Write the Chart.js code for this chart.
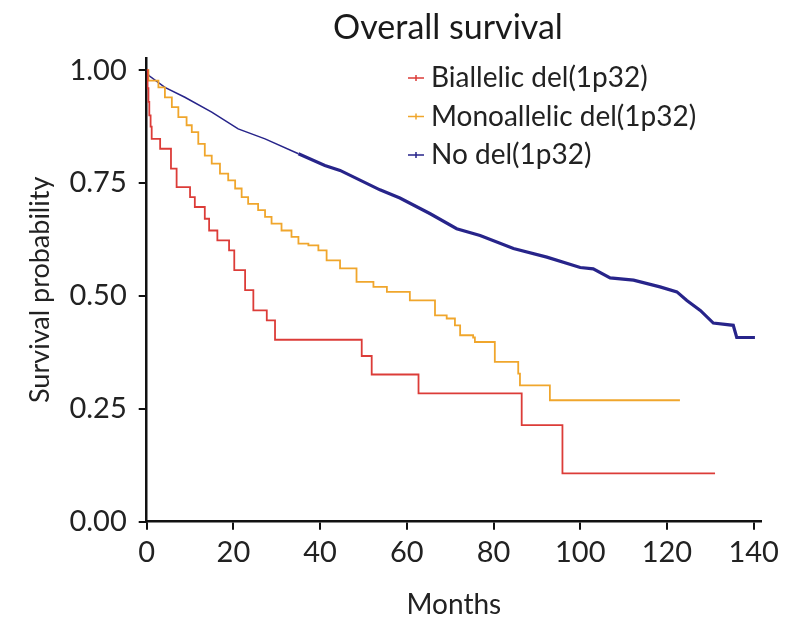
<!DOCTYPE html>
<html><head><meta charset="utf-8">
<script src="https://cdn.jsdelivr.net/npm/chart.js@4/dist/chart.umd.min.js"></script>
<style>html,body{margin:0;padding:0;background:#fff}</style>
</head><body>
<canvas id="c" width="796" height="622"></canvas>
<script>
const chartTitle = 'Overall survival';
const xTitle = 'Months';
const yTitle = 'Survival probability';
const seriesNames = ['Biallelic del(1p32)', 'Monoallelic del(1p32)', 'No del(1p32)'];
const seriesColors = ['#dc3c38', '#f0a62c', '#27248a'];

const xTicks = [0, 20, 40, 60, 80, 100, 120, 140];
const yTicks = [0, 0.25, 0.5, 0.75, 1.0];

const biallelicMonths = [0, 0.2, 0.4, 0.6, 0.9, 1.15, 3.1, 5.6, 6.9, 10.0, 11.1, 13.4, 14.4, 16.3, 19.0, 20.2, 22.7, 24.6, 27.7, 29.6, 49.6, 51.9, 62.7, 86.5, 95.9, 131.1];
const biallelicSurv   = [1.0, 0.96, 0.93, 0.90, 0.875, 0.848, 0.826, 0.782, 0.741, 0.719, 0.697, 0.671, 0.645, 0.623, 0.601, 0.557, 0.513, 0.468, 0.446, 0.403, 0.367, 0.326, 0.284, 0.214, 0.107, 0.107];

const monoMonths = [0, 0.4, 2.7, 4.2, 5.8, 7.3, 9.2, 10.4, 11.9, 13.4, 15.0, 16.9, 18.8, 20.4, 21.9, 23.4, 25.7, 27.3, 28.8, 31.1, 33.4, 35.0, 37.3, 39.6, 41.5, 44.6, 48.4, 52.3, 55.4, 60.7, 66.5, 69.2, 71.1, 72.3, 75.3, 75.7, 80.3, 85.7, 86.1, 93.0, 123.0];
const monoSurv   = [1.0, 0.977, 0.962, 0.940, 0.918, 0.896, 0.878, 0.863, 0.837, 0.811, 0.793, 0.771, 0.756, 0.738, 0.719, 0.704, 0.690, 0.675, 0.660, 0.645, 0.631, 0.616, 0.612, 0.601, 0.579, 0.561, 0.531, 0.520, 0.509, 0.490, 0.457, 0.450, 0.435, 0.413, 0.408, 0.398, 0.354, 0.328, 0.302, 0.269, 0.269];

const noDelMonths = [0, 0.5, 4.2, 8.8, 15.0, 21.1, 27.3, 35.0, 41.1, 44.6, 53.8, 58.4, 65.4, 71.5, 76.9, 84.6, 92.3, 100, 103, 106.9, 112.3, 118.4, 122.3, 124.6, 127.7, 130.7, 135.3, 136.1, 140.3];
const noDelSurv   = [1.0, 0.988, 0.962, 0.940, 0.907, 0.870, 0.848, 0.815, 0.789, 0.778, 0.735, 0.717, 0.682, 0.649, 0.634, 0.605, 0.586, 0.563, 0.560, 0.540, 0.535, 0.520, 0.509, 0.490, 0.468, 0.440, 0.435, 0.408, 0.408];

const pts = (xs, ys) => xs.map((x, i) => ({x: x, y: ys[i]}));
const FONT = 'Lato, "Open Sans", sans-serif';

const overlay = {
  id: 'overlay',
  afterDraw(chart) {
    const ctx = chart.ctx;
    ctx.save();
    ctx.fillStyle = '#1a1a1a';
    ctx.font = '34px ' + FONT;
    ctx.textAlign = 'center';
    ctx.textBaseline = 'middle';
    ctx.fillText(chartTitle, 448, 28);
    ctx.font = '28px ' + FONT;
    ctx.textAlign = 'left';
    chart.data.datasets.forEach((ds, i) => {
      const y = 78 + i * 38.5;
      ctx.strokeStyle = ds.borderColor;
      ctx.lineWidth = 1.5;
      ctx.beginPath();
      ctx.moveTo(408, y); ctx.lineTo(424, y);
      ctx.moveTo(416, y - 3); ctx.lineTo(416, y + 3);
      ctx.stroke();
      ctx.fillStyle = '#222';
      ctx.fillText(ds.label, 431, y);
    });
    ctx.restore();
  }
};

new Chart(document.getElementById('c'), {
  type: 'line',
  data: {
    datasets: [
      {label: seriesNames[0], data: pts(biallelicMonths, biallelicSurv), borderColor: seriesColors[0], borderWidth: 1.8, stepped: true, pointRadius: 0, fill: false},
      {label: seriesNames[1], data: pts(monoMonths, monoSurv), borderColor: seriesColors[1], borderWidth: 1.8, stepped: true, pointRadius: 0, fill: false},
      {label: seriesNames[2], data: pts(noDelMonths, noDelSurv), borderColor: seriesColors[2], borderWidth: 1.5, pointRadius: 0, fill: false, tension: 0,
        segment: {borderWidth: c => c.p0.parsed.x >= 35 ? 3.2 : 1.5}}
    ]
  },
  options: {
    responsive: false,
    animation: false,
    layout: {padding: {top: 58, right: 35, left: 0, bottom: 0}},
    plugins: {legend: {display: false}, title: {display: false}, tooltip: {enabled: false}},
    scales: {
      x: {
        type: 'linear', min: 0, max: 141.7,
        afterBuildTicks: s => { s.ticks = xTicks.map(v => ({value: v})); },
        afterFit: s => { s.height = 100.3; },
        border: {display: true, color: '#111', width: 2.5},
        grid: {drawOnChartArea: false, drawTicks: true, tickLength: 8, color: '#111', lineWidth: 2},
        ticks: {font: {family: FONT, size: 29}, color: '#222', padding: 6, maxRotation: 0},
        title: {display: true, text: xTitle, font: {family: FONT, size: 28}, color: '#222', padding: {top: 0, bottom: 0}}
      },
      y: {
        type: 'linear', min: 0, max: 1.027,
        afterBuildTicks: s => { s.ticks = yTicks.map(v => ({value: v})); },
        afterFit: s => { s.width = 146.7; },
        border: {display: true, color: '#111', width: 2.5},
        grid: {drawOnChartArea: false, drawTicks: true, tickLength: 8, color: '#111', lineWidth: 2},
        ticks: {font: {family: FONT, size: 29}, color: '#222', padding: 12, callback: v => Number(v).toFixed(2)},
        title: {display: true, text: yTitle, font: {family: FONT, size: 27}, color: '#222', padding: {top: 24, bottom: 0}}
      }
    }
  },
  plugins: [overlay]
});
</script>
</body></html>
